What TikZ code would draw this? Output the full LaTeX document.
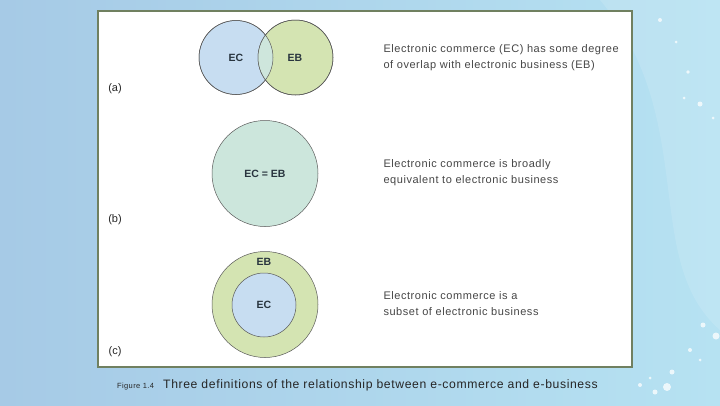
\documentclass[tikz,border=0pt]{standalone}
\usepackage{fontspec}
\setmainfont{Liberation Sans}
\newfontfamily\spacedfont[LetterSpace=5]{Liberation Sans}
\definecolor{bgL}{RGB}{166,202,230}
\definecolor{bgR}{RGB}{182,226,242}
\definecolor{panelborder}{RGB}{112,128,96}
\definecolor{ecblue}{RGB}{199,221,241}
\definecolor{ebgreen}{RGB}{212,228,178}
\definecolor{overlapc}{RGB}{206,230,220}
\definecolor{equalc}{RGB}{204,230,220}
\definecolor{labelc}{RGB}{40,52,62}
\definecolor{textc}{RGB}{70,70,70}
\begin{document}
\begin{tikzpicture}[x=1pt,y=-1pt,
  setc/.style={circle, draw=black!65, line width=0.5pt, inner sep=0pt,
    font=\fontsize{10.5}{12}\selectfont\bfseries, text=labelc},
  tag/.style={font=\fontsize{11}{12}\selectfont, text=black!85},
  desc/.style={anchor=west, align=left, text=textc,
    font=\spacedfont\fontsize{11}{16}\selectfont},
  bubble/.style={fill=white, opacity=0.75}]
\useasboundingbox (0,0) rectangle (720,405);
% background
\shade[left color=bgL, right color=bgR] (0,0) rectangle (720,405);
\fill[white, opacity=0.12] (600,0) .. controls (700,120) and (640,260) .. (720,330) -- (720,0) -- cycle;
\foreach \x/\y/\r in {660/20/2, 676/42/1.5, 688/72/1.8, 684/98/1.5, 700/104/2.5, 713/118/1.5,
  703/325/2.5, 716/336/3.5, 690/350/2, 700/360/1.5, 672/372/2.5, 650/378/1.5, 667/387/4, 655/392/2.5, 640/385/2}
  \fill[bubble] (\x,\y) circle (\r pt);
% panel
\draw[draw=panelborder, line width=1.2pt, fill=white] (98,11) rectangle (632,367);
% (a)
\node[setc, fill=ecblue, minimum size=74pt] (ec) at (236,57.5) {};
\node[setc, fill=ebgreen, minimum size=75pt] (eb) at (295.5,57.5) {};
\begin{scope}
  \clip (236,57.5) circle (37pt);
  \fill[overlapc] (295.5,57.5) circle (37.5pt);
\end{scope}
\draw[black!65, line width=0.5pt] (236,57.5) circle (37pt);
\draw[black!65, line width=0.5pt] (295.5,57.5) circle (37.5pt);
\node[setc, draw=none] (eclab) at (236,58) {EC};
\node[setc, draw=none] (eblab) at (295,58) {EB};
\node[tag] (ta) at (115,89) {(a)};
\node[desc] (da) at (380,57.5) {Electronic commerce (EC) has some degree\\of overlap with electronic business (EB)};
% (b)
\node[setc, fill=equalc, minimum size=106pt] (eq) at (265,173.5) {EC = EB};
\node[tag] (tb) at (115,220) {(b)};
\node[desc] (db) at (380,172.5) {Electronic commerce is broadly\\equivalent to electronic business};
% (c)
\node[setc, fill=ebgreen, minimum size=106pt] (outer) at (265,304.5) {};
\node[setc, fill=ecblue, minimum size=64pt] (inner) at (264,305) {EC};
\node[setc, draw=none] (eblab2) at (264,262) {EB};
\node[tag] (tc) at (115,352) {(c)};
\node[desc] (dc) at (380,303.5) {Electronic commerce is a\\subset of electronic business};
% caption
\node[anchor=west, inner sep=0pt, text=black!85, font=\spacedfont\fontsize{7.5}{8}\selectfont] (fig) at (117,386.5) {Figure 1.4};
\node[anchor=west, inner sep=0pt, text=black!85, font=\spacedfont\fontsize{12.2}{14}\selectfont] (cap) at (163,385.5) {Three definitions of the relationship between e-commerce and e-business};
\end{tikzpicture}
\end{document}
